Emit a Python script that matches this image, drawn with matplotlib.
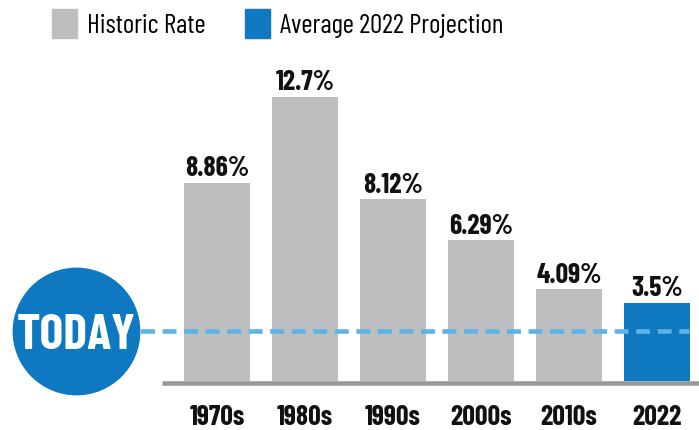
import matplotlib.pyplot as plt
from matplotlib.patches import Patch

plt.rcParams['lines.scale_dashes'] = False

periods = ["1970s", "1980s", "1990s", "2000s", "2010s", "2022"]
rates = [8.86, 12.7, 8.12, 6.29, 4.09, 3.5]
rate_labels = ["8.86%", "12.7%", "8.12%", "6.29%", "4.09%", "3.5%"]
is_projection = [False, False, False, False, False, True]
today_level = 2.23

GRAY = "#bdbec0"
BLUE = "#0e79c1"
DASH = "#5eb3e4"
AXIS = "#98989a"
TEXT = "#111111"
NARROW = ["Barlow Condensed", "Liberation Sans Narrow", "DejaVu Sans"]

fig = plt.figure(figsize=(6.99, 4.30), dpi=100)
ax = fig.add_axes([0, 0, 1, 1])
ax.set_xlim(-2.466, 5.477)
ax.set_ylim(-2.1875, 17.01)
ax.axis("off")

x = list(range(len(periods)))
colors = [BLUE if p else GRAY for p in is_projection]
ax.bar(x, rates, width=0.75, color=colors, zorder=2)

# baseline under the bars
ax.hlines(-0.11, -0.625, 5.477, color=AXIS, linewidth=3.3, zorder=1)

# value labels
for xi, v, lab in zip(x, rates, rate_labels):
    ax.annotate(lab, (xi, v), xytext=(0, 4.5), textcoords="offset points",
                ha="center", va="baseline", fontsize=20, fontweight="bold",
                family=NARROW, color=TEXT)

# category labels
for xi, p in zip(x, periods):
    ax.text(xi, -1.96, p, ha="center", va="baseline", fontsize=20,
            fontweight="bold", family=NARROW, color=TEXT)

# "today" marker and dashed level line
ax.plot([-1.602, 5.36], [today_level, today_level], color=DASH, linewidth=3.3,
        dashes=(10, 5.5), zorder=3)
ax.plot([-1.602], [today_level], marker="o", markersize=92, color=BLUE,
        markeredgewidth=0, zorder=4)
ax.text(-1.602, today_level, "TODAY", ha="center", va="center_baseline",
        fontsize=36, fontweight="bold", family=NARROW, color="white", zorder=5)

handles = [Patch(color=GRAY, label="Historic Rate"),
           Patch(color=BLUE, label="Average 2022 Projection")]
fig.legend(handles=handles, loc="upper left", bbox_to_anchor=(52 / 699, 1 - 9 / 430),
           ncol=2, frameon=False, borderpad=0, borderaxespad=0,
           handlelength=0.93, handleheight=1.26, handletextpad=0.37,
           columnspacing=1.45, prop={"family": NARROW, "size": 19.5})

fig.savefig("out.png", dpi=100)
